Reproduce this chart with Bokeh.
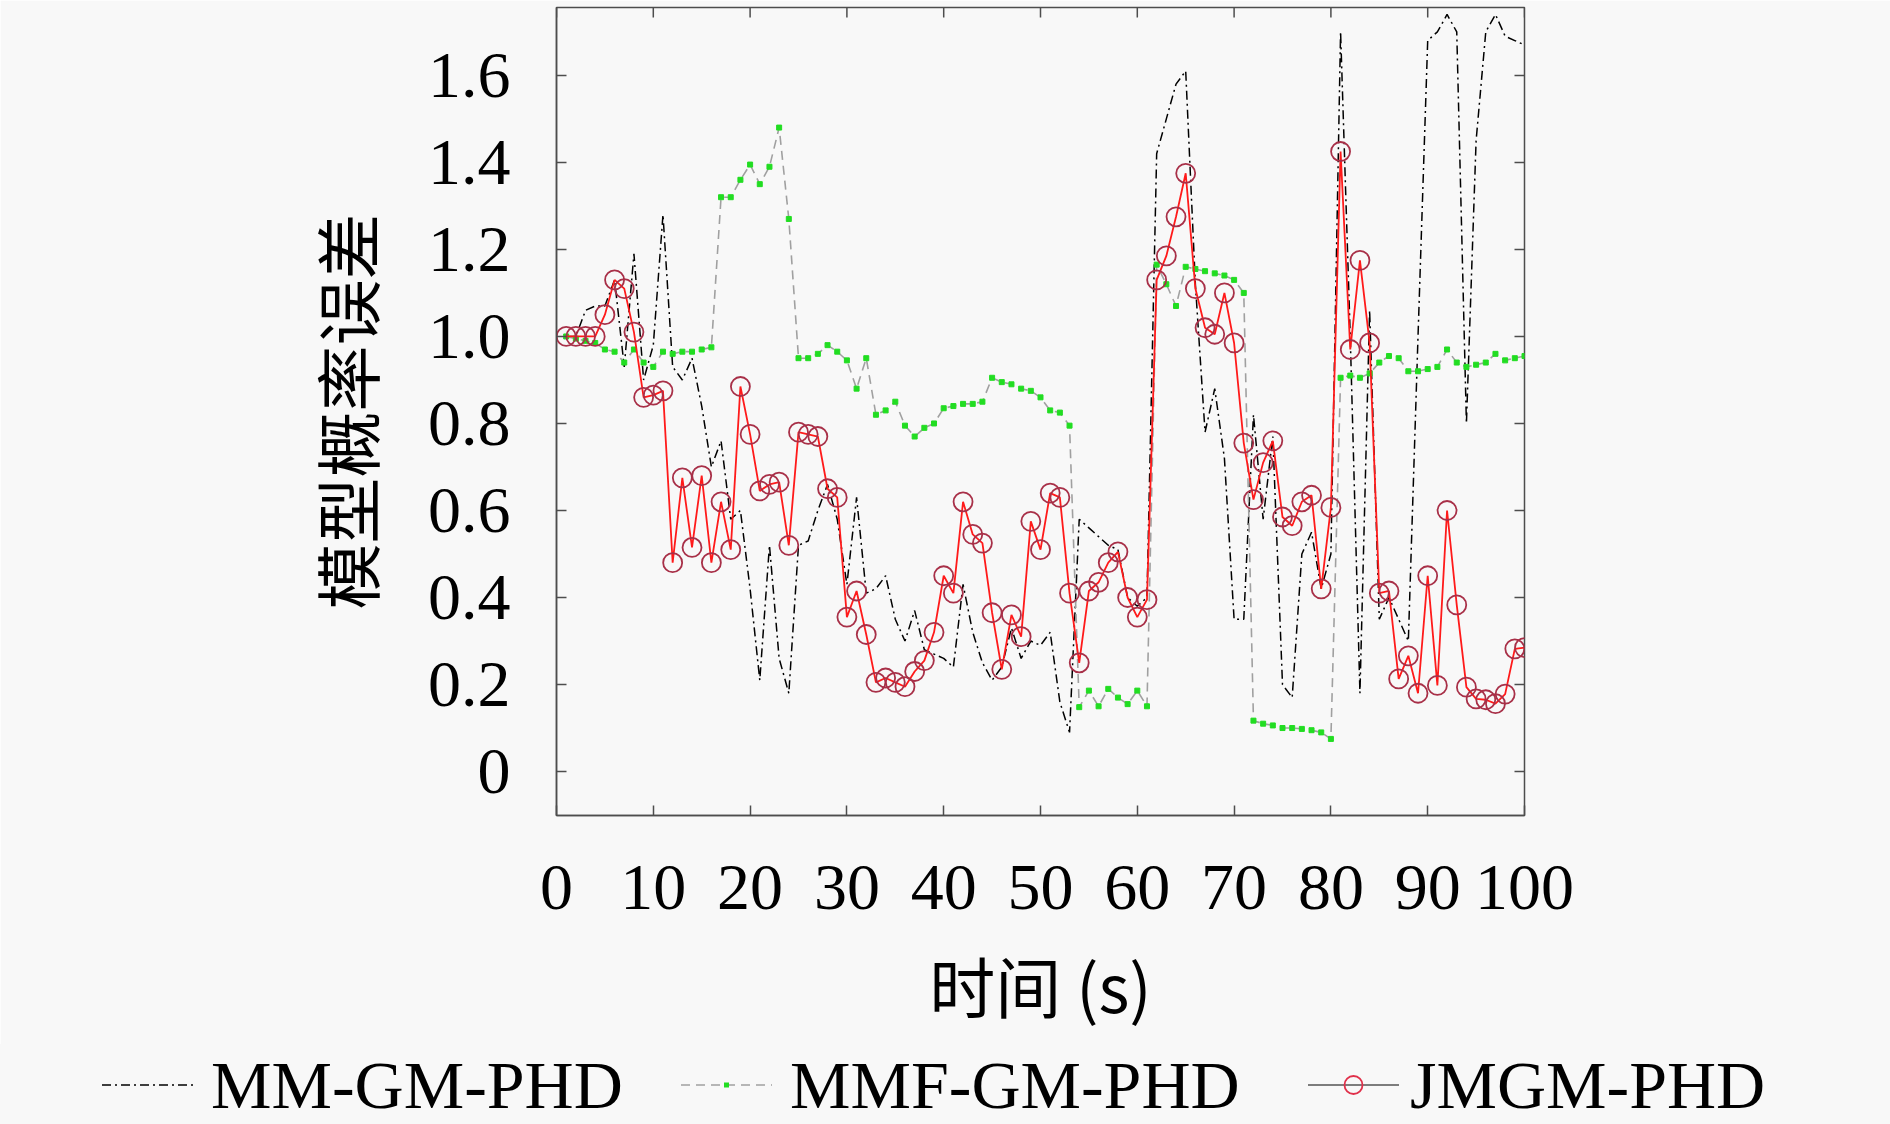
import math
from bokeh.plotting import figure
from bokeh.layouts import column
from bokeh.models import (Range1d, FixedTicker, CustomJSTickFormatter,
                          ColumnDataSource, Div)
from bokeh.embed import file_html
from bokeh.resources import INLINE

# ---- data -------------------------------------------------------------
t = list(range(1, 101))

mm_gm_phd = [
    1.00, 1.00, 1.06, 1.07, 1.07, 1.13, 0.93, 1.19, 0.90, 0.98,
    1.28, 0.93, 0.90, 0.95, 0.84, 0.70, 0.76, 0.58, 0.60, 0.42,
    0.21, 0.52, 0.26, 0.18, 0.52, 0.53, 0.60, 0.66, 0.58, 0.43,
    0.63, 0.41, 0.42, 0.45, 0.35, 0.30, 0.37, 0.28, 0.27, 0.26,
    0.24, 0.43, 0.32, 0.25, 0.21, 0.24, 0.33, 0.26, 0.30, 0.29,
    0.32, 0.16, 0.09, 0.58, 0.56, 0.54, 0.52, 0.51, 0.40, 0.38,
    0.40, 1.42, 1.50, 1.58, 1.61, 1.12, 0.78, 0.88, 0.72, 0.35,
    0.35, 0.82, 0.58, 0.77, 0.20, 0.17, 0.50, 0.55, 0.42, 0.50,
    1.70, 1.00, 0.18, 1.06, 0.35, 0.40, 0.35, 0.30, 1.00, 1.68,
    1.70, 1.74, 1.70, 0.80, 1.45, 1.70, 1.74, 1.69, 1.68, 1.67,
]

mmf_gm_phd = [
    1.00, 0.995, 0.99, 0.985, 0.97, 0.965, 0.94, 0.97, 0.94, 0.93,
    0.965, 0.96, 0.965, 0.965, 0.97, 0.975, 1.32, 1.32, 1.36, 1.395,
    1.35, 1.39, 1.48, 1.27, 0.95, 0.95, 0.96, 0.98, 0.965, 0.945,
    0.88, 0.95, 0.82, 0.83, 0.85, 0.795, 0.77, 0.79, 0.80, 0.835,
    0.84, 0.845, 0.845, 0.85, 0.905, 0.895, 0.89, 0.88, 0.875, 0.86,
    0.83, 0.825, 0.795, 0.148, 0.186, 0.15, 0.19, 0.17, 0.155, 0.186,
    0.15, 1.165, 1.12, 1.07, 1.16, 1.155, 1.15, 1.145, 1.14, 1.13,
    1.10, 0.117, 0.11, 0.106, 0.10, 0.10, 0.098, 0.095, 0.09, 0.075,
    0.905, 0.91, 0.905, 0.915, 0.94, 0.955, 0.95, 0.92, 0.92, 0.925,
    0.93, 0.97, 0.94, 0.93, 0.935, 0.94, 0.96, 0.945, 0.95, 0.955,
]

jmgm_phd = [
    1.00, 1.00, 1.00, 1.00, 1.05, 1.13, 1.11, 1.01, 0.86, 0.865,
    0.875, 0.48, 0.675, 0.515, 0.68, 0.48, 0.62, 0.51, 0.885, 0.775,
    0.645, 0.66, 0.665, 0.52, 0.78, 0.775, 0.77, 0.65, 0.63, 0.355,
    0.415, 0.315, 0.205, 0.215, 0.205, 0.195, 0.23, 0.255, 0.32, 0.45,
    0.41, 0.62, 0.545, 0.525, 0.365, 0.235, 0.36, 0.31, 0.575, 0.51,
    0.64, 0.63, 0.41, 0.25, 0.415, 0.435, 0.48, 0.505, 0.40, 0.355,
    0.395, 1.13, 1.185, 1.275, 1.375, 1.11, 1.02, 1.005, 1.10, 0.985,
    0.755, 0.625, 0.71, 0.76, 0.585, 0.565, 0.62, 0.635, 0.42, 0.607,
    1.425, 0.97, 1.175, 0.985, 0.41, 0.415, 0.213, 0.266, 0.18, 0.45,
    0.198, 0.60, 0.383, 0.194, 0.167, 0.165, 0.156, 0.178, 0.282, 0.285,
]

x_ticks = [0, 10, 20, 30, 40, 50, 60, 70, 80, 90, 100]
y_ticks = [0, 0.2, 0.4, 0.6, 0.8, 1.0, 1.2, 1.4, 1.6]

series_names = ["MM-GM-PHD", "MMF-GM-PHD", "JMGM-PHD"]
x_label = "时间 (s)"
y_label = "模型概率误差"

# ---- styles -----------------------------------------------------------
BG = "#f8f8f8"
AX = "#4d4d4d"
SERIF = "Liberation Serif"
MM_COLOR = "black"
MMF_LINE_COLOR = "#a0a0a0"
MMF_PT_COLOR = "#22dd22"
J_LINE_COLOR = "#ff1a1a"
J_PT_COLOR = "#a83048"

src = ColumnDataSource(dict(t=t, mm=mm_gm_phd, mmf=mmf_gm_phd, j=jmgm_phd))

# ---- main figure ------------------------------------------------------
x_rng = Range1d(0, 100)
y_rng = Range1d(-0.101, 1.756)

MAIN_H = 1044
p = figure(width=1890, height=MAIN_H, output_backend="svg", toolbar_location=None,
           x_range=x_rng, y_range=y_rng,
           min_border_left=556, min_border_right=366,
           min_border_top=7, min_border_bottom=MAIN_H - 815,
           background_fill_color=BG, border_fill_color=BG)
p.grid.visible = False
p.outline_line_color = AX
p.outline_line_width = 1.5

fmt = CustomJSTickFormatter(code="return tick == 0 ? '0' : tick.toFixed(1);")

xa = p.xaxis[0]
xa.ticker = FixedTicker(ticks=x_ticks)
ya = p.yaxis[0]
ya.ticker = FixedTicker(ticks=y_ticks)
ya.formatter = fmt

for ax in (xa, ya):
    ax.major_label_text_font = SERIF
    ax.major_label_text_font_size = "66px"
    ax.major_label_text_color = "black"
    ax.major_tick_in = 10
    ax.major_tick_out = 0
    ax.minor_tick_in = 0
    ax.minor_tick_out = 0
    ax.axis_line_color = AX
    ax.axis_line_width = 1.5
    ax.major_tick_line_color = AX
    ax.major_tick_line_width = 1.5
    ax.axis_label_text_font_style = "normal"
    ax.axis_label_text_color = "black"

xa.major_label_standoff = 50
xa.axis_label = x_label
xa.axis_label_text_font = "Noto Sans CJK SC"
xa.axis_label_text_font_size = "66px"
xa.axis_label_standoff = 24

ya.major_label_standoff = 46
ya.axis_label = y_label
ya.axis_label_text_font = "Noto Sans CJK SC"
ya.axis_label_text_font_size = "66px"
ya.axis_label_standoff = 32

# mirrored inward ticks on the top and right edges (clipped to the frame)
p.scatter(x=x_ticks, y=[y_rng.end] * len(x_ticks), marker="dash", size=20,
          angle=math.pi / 2, line_color=AX, line_width=1.5)
p.scatter(x=[x_rng.end] * len(y_ticks), y=y_ticks, marker="dash", size=20,
          line_color=AX, line_width=1.5)

p.line("t", "mm", source=src, line_color=MM_COLOR, line_width=1.5,
       line_dash="9 4 2 4")
p.line("t", "mmf", source=src, line_color=MMF_LINE_COLOR, line_width=1.6,
       line_dash="9 6")
p.scatter("t", "mmf", source=src, marker="square", size=5,
          fill_color=MMF_PT_COLOR, line_color=MMF_PT_COLOR)
p.line("t", "j", source=src, line_color=J_LINE_COLOR, line_width=1.8)
p.scatter("t", "j", source=src, marker="circle", size=19, fill_color=None,
          line_color=J_PT_COLOR, line_width=1.8)

# ---- legend strip below the plot (HTML, real text) --------------------
LEG_H = 1124 - MAIN_H
samples = [
    f'<line x1="0" y1="10" x2="91" y2="10" stroke="{MM_COLOR}" stroke-width="1.5" '
    f'stroke-dasharray="9 4 2 4"/>',
    f'<line x1="0" y1="10" x2="91" y2="10" stroke="{MMF_LINE_COLOR}" stroke-width="1.6" '
    f'stroke-dasharray="9 6"/><rect x="43" y="7.5" width="5" height="5" '
    f'fill="{MMF_PT_COLOR}"/>',
    f'<line x1="0" y1="10" x2="91" y2="10" stroke="#555555" stroke-width="1.6"/>'
    f'<circle cx="45.5" cy="10" r="9" fill="none" stroke="#e0304a" stroke-width="1.8"/>',
]
glyph_left = [102, 681, 1308]
text_left = [211, 790, 1410]
CY = 41
parts = []
for name, svg, gx, tx in zip(series_names, samples, glyph_left, text_left):
    parts.append(
        f'<svg width="91" height="20" style="position:absolute;left:{gx}px;'
        f'top:{CY - 10}px;overflow:visible">{svg}</svg>')
    parts.append(
        f'<span style="position:absolute;left:{tx}px;top:{CY - 38}px;'
        f'height:76px;line-height:76px;white-space:nowrap">{name}</span>')
legend_html = (
    f'<div style="position:relative;width:1890px;height:{LEG_H}px;'
    f'background:{BG};font-family:\'{SERIF}\';font-size:68px;color:black;'
    f'overflow:hidden">' + "".join(parts) + '</div>')

leg = Div(text=legend_html, width=1890, height=LEG_H, margin=0,
          styles={"background-color": BG})

layout = column(p, leg, spacing=0)
open("out.html", "w").write(file_html(layout, INLINE))
